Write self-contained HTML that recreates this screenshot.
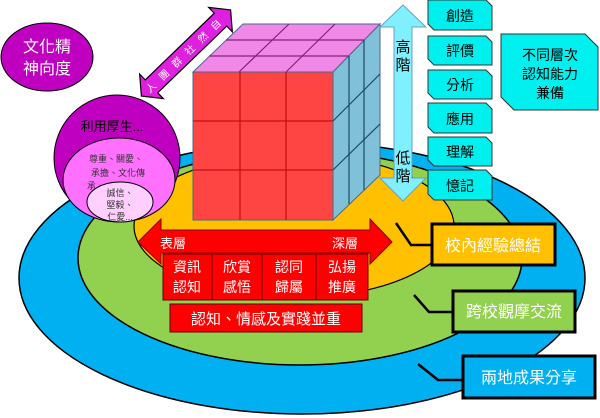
<!DOCTYPE html>
<html><head><meta charset="utf-8"><style>
html,body{margin:0;padding:0;background:#fff;}
svg{display:block;font-family:"Liberation Sans","Noto Sans CJK TC",sans-serif;}
</style></head><body>
<svg width="600" height="418" viewBox="0 0 600 418" xmlns="http://www.w3.org/2000/svg">
<ellipse cx="302" cy="278" rx="283" ry="136" fill="#00b0f0" stroke="#000" stroke-width="1.5"/>
<ellipse cx="300" cy="258" rx="222" ry="107" fill="#92d050" stroke="#000" stroke-width="1.5"/>
<ellipse cx="294" cy="226" rx="160" ry="72" fill="#ffc000" stroke="#000" stroke-width="1.2"/>

<!-- cube -->
<polygon points="193,72 243,24 380,24 333,72" fill="#f088e8" stroke="#4a6a8a" stroke-width="1"/>
<g stroke="#802080" stroke-width="1.2" fill="none">
<line x1="209" y1="56" x2="349" y2="56"/><line x1="226" y1="40" x2="364" y2="40"/>
<line x1="239" y1="72" x2="289" y2="24"/><line x1="286" y1="72" x2="335" y2="24"/>
</g>
<rect x="193" y="72" width="140" height="148" fill="#ff4444" stroke="#4a6a8a" stroke-width="1"/>
<g stroke="#c01010" stroke-width="1.2">
<line x1="240" y1="72" x2="240" y2="220"/><line x1="286" y1="72" x2="286" y2="220"/>
<line x1="193" y1="121" x2="333" y2="121"/><line x1="193" y1="170" x2="333" y2="170"/>
</g>
<polygon points="333,72 380,24 380,175 333,220" fill="#80c0d8" stroke="#4a6a8a" stroke-width="1"/>
<g stroke="#1a4a6a" stroke-width="1.2">
<line x1="349" y1="56" x2="349" y2="204"/><line x1="364" y1="40" x2="364" y2="190"/>
<line x1="333" y1="121" x2="380" y2="74"/><line x1="333" y1="170" x2="380" y2="124"/>
</g>

<!-- magenta arrow -->
<g transform="translate(186,53) rotate(-44)">
<polygon points="-62,0 -48,-17 -48,-9 48,-9 48,-17 62,0 48,17 48,9 -48,9 -48,17" fill="#e020e0" stroke="#000" stroke-width="1.2"/>
<text x="0" y="4" font-size="10" fill="#fff" text-anchor="middle" letter-spacing="8">人團群社然自</text>
</g>

<!-- cyan vertical arrow -->
<polygon points="403,5 426,27 412,27 412,178 426,178 403,201 380,178 394,178 394,27 380,27" fill="#80f0ff" stroke="#6aa0c0" stroke-width="1"/>
<text x="403" y="52" font-size="15" fill="#000" text-anchor="middle">高</text>
<text x="403" y="70" font-size="15" fill="#000" text-anchor="middle">階</text>
<text x="403" y="163" font-size="15" fill="#000" text-anchor="middle">低</text>
<text x="403" y="181" font-size="15" fill="#000" text-anchor="middle">階</text>

<!-- cyan boxes -->
<g fill="#00f0f0" stroke="#333" stroke-width="1" font-size="14">
<polygon points="428,0 486,0 492,6 492,30 434,30 428,24"/>
<polygon points="428,36 486,36 492,42 492,65 434,65 428,59"/>
<polygon points="428,70 486,70 492,76 492,99 434,99 428,93"/>
<polygon points="428,103 486,103 492,109 492,133 434,133 428,127"/>
<polygon points="428,137 486,137 492,143 492,166 434,166 428,160"/>
<polygon points="428,170 486,170 492,176 492,200 434,200 428,194"/>
<polygon points="501,34 585,34 598,47 598,110 514,110 501,97"/>
</g>
<g font-size="14" fill="#000" text-anchor="middle">
<text x="460" y="21">創造</text><text x="460" y="56">評價</text><text x="460" y="90">分析</text>
<text x="460" y="124">應用</text><text x="460" y="157">理解</text><text x="460" y="191">憶記</text>
<text x="550" y="60">不同層次</text><text x="550" y="79">認知能力</text><text x="550" y="98">兼備</text>
</g>

<!-- left circles -->
<ellipse cx="47" cy="57" rx="46" ry="34" fill="#c000c0" stroke="#000" stroke-width="1"/>
<text x="47" y="52" font-size="16" fill="#fff" text-anchor="middle">文化精</text>
<text x="47" y="74" font-size="16" fill="#fff" text-anchor="middle">神向度</text>
<circle cx="117" cy="158" r="63" fill="#c000c0" stroke="#000" stroke-width="1"/>
<text x="112" y="131" font-size="13" fill="#000" text-anchor="middle">利用厚生...</text>
<ellipse cx="119" cy="180" rx="56" ry="42" fill="#ff70ff" stroke="#000" stroke-width="1"/>
<g font-size="9" fill="#333" text-anchor="middle">
<text x="116" y="162">尊重、關愛、</text><text x="118" y="176">承擔、文化傳</text><text x="96" y="189">承、</text>
</g>
<ellipse cx="120" cy="202" rx="33" ry="20" fill="#ffd0ff" stroke="#000" stroke-width="1"/>
<g font-size="9" fill="#333" text-anchor="middle">
<text x="120" y="196">誠信、</text><text x="120" y="208">堅毅、</text><text x="120" y="220">仁愛...</text>
</g>

<!-- red arrow -->
<polygon points="138,242 161,219 161,230 370,230 370,219 392,242 370,264 370,253 161,253 161,264" fill="#ff0000" stroke="#800" stroke-width="1"/>
<text x="173" y="248" font-size="13" fill="#fff" text-anchor="middle">表層</text>
<text x="345" y="248" font-size="13" fill="#fff" text-anchor="middle">深層</text>
<g fill="#ff0000" stroke="#600" stroke-width="1">
<rect x="163" y="254" width="49" height="46"/><rect x="212" y="254" width="50" height="46"/>
<rect x="262" y="254" width="54" height="46"/><rect x="316" y="254" width="52" height="46"/>
<rect x="170" y="304" width="192" height="28"/>
</g>
<g font-size="14" fill="#fff" text-anchor="middle">
<text x="187" y="272">資訊</text><text x="187" y="292">認知</text>
<text x="237" y="272">欣賞</text><text x="237" y="292">感悟</text>
<text x="289" y="272">認同</text><text x="289" y="292">歸屬</text>
<text x="342" y="272">弘揚</text><text x="342" y="292">推廣</text>
<text x="266" y="324" font-size="15">認知、情感及實踐並重</text>
</g>

<!-- callouts -->
<g fill="none" stroke="#000" stroke-width="2.5">
<polyline points="396,223 411,245 432,245"/>
<polyline points="414,295 429,312 453,312"/>
<polyline points="418,364 438,380 463,380"/>
</g>
<rect x="432" y="224" width="123" height="41" fill="#ffc000" stroke="#000" stroke-width="3"/>
<rect x="453" y="291" width="122" height="41" fill="#92d050" stroke="#000" stroke-width="3"/>
<rect x="463" y="356" width="132" height="42" fill="#00b0f0" stroke="#000" stroke-width="3"/>
<g font-size="16" fill="#fff" text-anchor="middle">
<text x="493" y="251">校內經驗總結</text>
<text x="514" y="317">跨校觀摩交流</text>
<text x="529" y="383">兩地成果分享</text>
</g>
</svg>
</body></html>
